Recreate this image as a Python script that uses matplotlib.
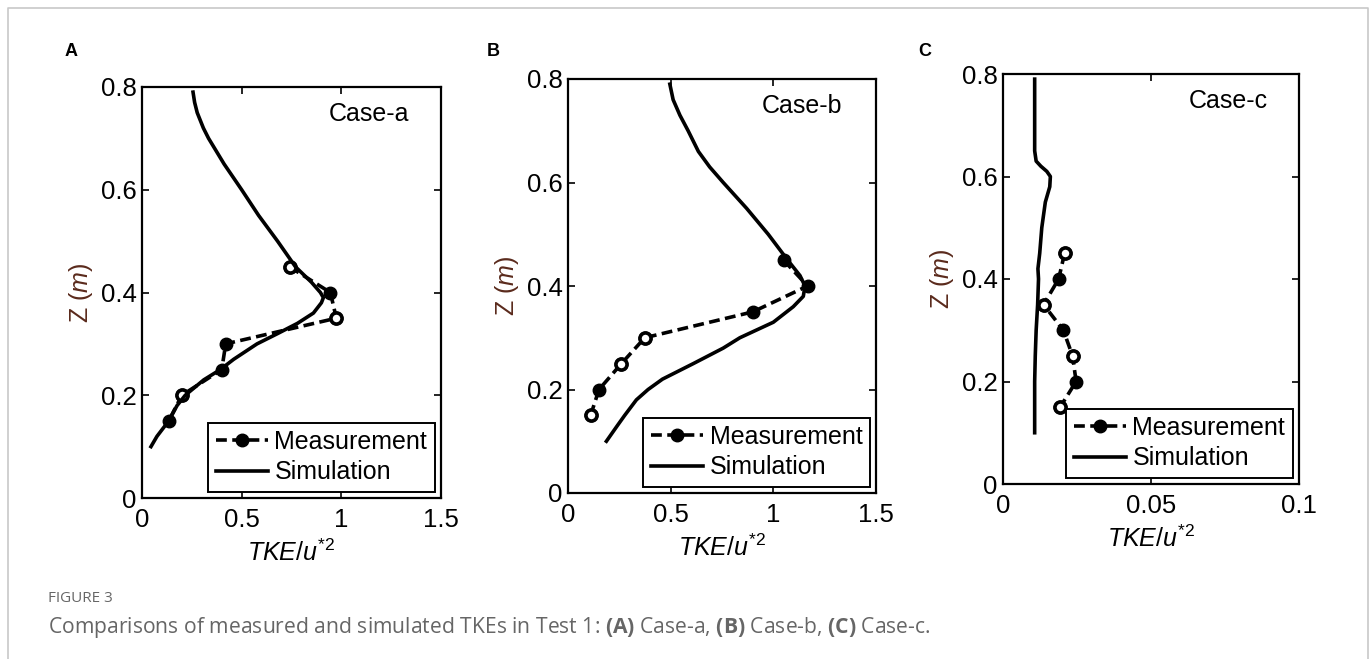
import matplotlib
matplotlib.use("Agg")
import matplotlib.pyplot as plt

plt.rcParams["font.family"] = "Liberation Sans"
plt.rcParams["mathtext.fontset"] = "custom"
plt.rcParams["mathtext.rm"] = "Liberation Sans"
plt.rcParams["mathtext.it"] = "Liberation Sans:italic"
plt.rcParams["mathtext.bf"] = "Open Sans:bold"

# -------------------------------------------------------------------
# Data (z in m, TKE/u*^2)
# -------------------------------------------------------------------
MEAS_Z = [0.45, 0.40, 0.35, 0.30, 0.25, 0.20, 0.15]

MEAS_A = [0.74, 0.945, 0.975, 0.42, 0.40, 0.20, 0.134]
OPEN_A = [True, False, True, False, False, True, False]
SIM_A_Z = [0.10, 0.12, 0.15, 0.18, 0.20, 0.23, 0.25, 0.27, 0.30, 0.32, 0.34,
           0.36, 0.38, 0.39, 0.40, 0.42, 0.45, 0.50, 0.55, 0.60, 0.65, 0.70,
           0.72, 0.75, 0.77, 0.79]
SIM_A = [0.045, 0.075, 0.134, 0.176, 0.217, 0.31, 0.393, 0.46, 0.577, 0.68,
         0.78, 0.86, 0.90, 0.91, 0.895, 0.85, 0.77, 0.68, 0.585, 0.50, 0.412,
         0.334, 0.308, 0.277, 0.264, 0.256]

MEAS_B = [1.05, 1.167, 0.90, 0.374, 0.26, 0.151, 0.11]
OPEN_B = [False, False, False, True, True, False, True]
SIM_B_Z = [0.10, 0.13, 0.15, 0.18, 0.20, 0.22, 0.25, 0.28, 0.30, 0.33, 0.36,
           0.38, 0.40, 0.42, 0.45, 0.50, 0.55, 0.60, 0.63, 0.66, 0.70, 0.73,
           0.76, 0.79]
SIM_B = [0.187, 0.24, 0.276, 0.333, 0.39, 0.46, 0.61, 0.756, 0.837, 1.0,
         1.097, 1.146, 1.154, 1.13, 1.07, 0.975, 0.87, 0.756, 0.69, 0.635,
         0.585, 0.545, 0.512, 0.496]

MEAS_C = [0.0208, 0.0188, 0.0137, 0.0204, 0.0235, 0.0247, 0.0193]
OPEN_C = [True, False, True, False, True, False, True]
SIM_C_Z = [0.10, 0.20, 0.25, 0.30, 0.35, 0.40, 0.42, 0.45, 0.50, 0.55, 0.58,
           0.60, 0.61, 0.62, 0.63, 0.65, 0.79]
SIM_C = [0.0107, 0.0107, 0.0109, 0.0112, 0.0117, 0.0120, 0.0118, 0.0124,
         0.0131, 0.0143, 0.0158, 0.0160, 0.0148, 0.0128, 0.0112, 0.0107,
         0.0107]

PANELS = [
    ("A", "Case-a", MEAS_A, OPEN_A, SIM_A_Z, SIM_A, 1.5, [0, 0.5, 1, 1.5], ["0", "0.5", "1", "1.5"]),
    ("B", "Case-b", MEAS_B, OPEN_B, SIM_B_Z, SIM_B, 1.5, [0, 0.5, 1, 1.5], ["0", "0.5", "1", "1.5"]),
    ("C", "Case-c", MEAS_C, OPEN_C, SIM_C_Z, SIM_C, 0.1, [0, 0.05, 0.1], ["0", "0.05", "0.1"]),
]

# axes rectangles in figure fraction (from pixel positions of the original)
W, H = 1372, 659
AX_PX = [(142, 87, 441, 498), (568, 79, 876, 493), (1003, 74, 1299, 484)]
LETTER_PX = [(71, 52), (493, 52), (925, 52)]

fig = plt.figure(figsize=(W / 100, H / 100), dpi=100)

# light grey page frame (open at the bottom)
fig.add_artist(plt.Line2D([8 / W, 8 / W, 1368 / W, 1368 / W],
                          [0, 1 - 8 / H, 1 - 8 / H, 0],
                          color="#c8c8c8", lw=1.2, transform=fig.transFigure))

for (letter, case, meas, is_open, sim_z, sim, xmax, xt, xtl), (x0, y0, x1, y1), (lx, ly) in zip(
        PANELS, AX_PX, LETTER_PX):
    ax = fig.add_axes([x0 / W, 1 - y1 / H, (x1 - x0) / W, (y1 - y0) / H])

    ax.plot(meas, MEAS_Z, color="black", lw=2.6, ls=(0, (3, 1.5)),
            marker="o", ms=9, mfc="black", mec="black", label="Measurement")
    ox = [m for m, o in zip(meas, is_open) if o]
    oz = [z for z, o in zip(MEAS_Z, is_open) if o]
    ax.plot(ox, oz, ls="none", marker="o", ms=8, mfc="white", mec="black", mew=2.6)
    ax.plot(sim, sim_z, color="black", lw=2.6, label="Simulation")

    ax.set_xlim(0, xmax)
    ax.set_ylim(0, 0.8)
    ax.set_xticks(xt)
    ax.set_xticklabels(xtl)
    ax.set_yticks([0, 0.2, 0.4, 0.6, 0.8])
    ax.set_yticklabels(["0", "0.2", "0.4", "0.6", "0.8"])
    ax.tick_params(direction="in", top=True, right=True, length=5, width=1.2,
                   labelsize=18.5, pad=4)
    ax.tick_params(axis="x", pad=7)
    for sp in ax.spines.values():
        sp.set_linewidth(1.6)

    ax.set_xlabel(r"$TKE/u^{*2}$", fontsize=18, labelpad=6)
    ax.set_ylabel(r"Z $(m)$", fontsize=18, color="#5a2a1c", labelpad=4)

    ax.text(0.76, 0.935, case, transform=ax.transAxes, ha="center", va="center",
            fontsize=18)

    leg = ax.legend(loc="lower right", fontsize=18, frameon=True, fancybox=False,
                    framealpha=1, edgecolor="black", borderaxespad=0.25,
                    borderpad=0.3, handlelength=2.1, handletextpad=0.25,
                    labelspacing=0.25)
    leg.get_frame().set_linewidth(1.4)

    fig.text(lx / W, 1 - ly / H, letter, ha="center", va="center",
             fontsize=13, fontweight="bold")

fig.text(48 / W, 1 - 598 / H, "FIGURE 3", ha="left", va="center",
         fontsize=11, color="#666666", family="Open Sans")
fig.text(48 / W, 1 - 627 / H,
         r"Comparisons of measured and simulated TKEs in Test 1: $\mathbf{(A)}$ Case-a, "
         r"$\mathbf{(B)}$ Case-b, $\mathbf{(C)}$ Case-c.",
         ha="left", va="center", fontsize=15.2, color="#666666", family="Open Sans")

fig.savefig("out.png", dpi=100)
